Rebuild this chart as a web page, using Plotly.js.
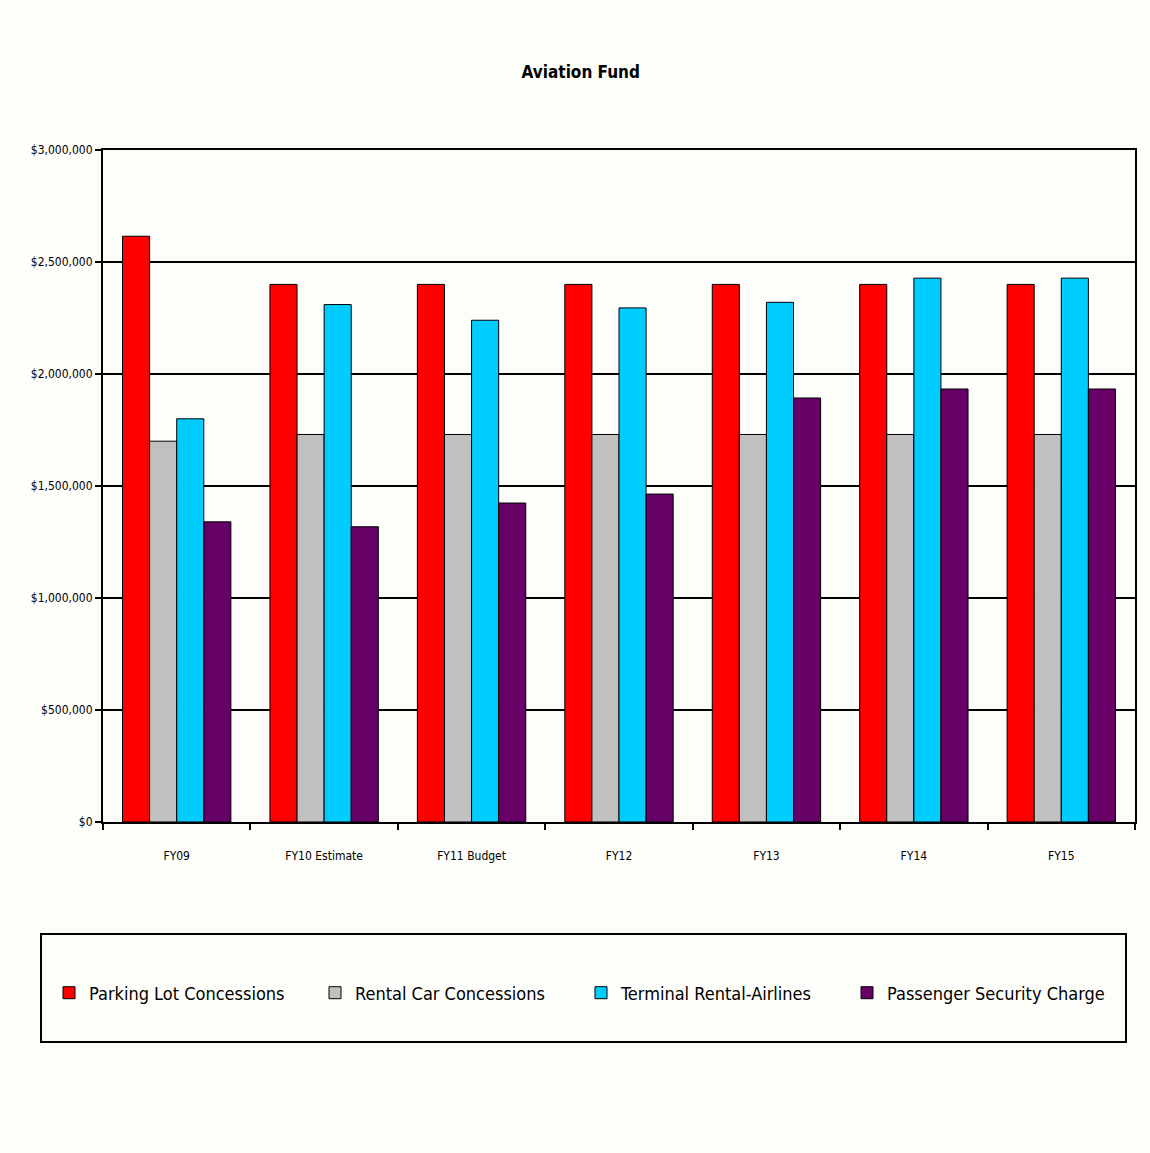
<!DOCTYPE html>
<html>
<head>
<meta charset="utf-8">
<script src="https://cdn.plot.ly/plotly-3.0.1.min.js"></script>
<style>
  html, body { margin: 0; padding: 0; background: #fdfdfa; }
  #chart { width: 1150px; height: 1153px; }
</style>
</head>
<body>
<div id="chart"></div>
<script>
// Aviation Fund revenue sources by fiscal year
const years = ["FY09", "FY10 Estimate", "FY11 Budget", "FY12", "FY13", "FY14", "FY15"];
const parkingLot = [2615000, 2400000, 2400000, 2400000, 2400000, 2400000, 2400000];
const rentalCar = [1700000, 1730000, 1730000, 1730000, 1730000, 1730000, 1730000];
const terminalRental = [1800000, 2310000, 2240000, 2295000, 2320000, 2428000, 2428000];
const securityCharge = [1340000, 1318000, 1424000, 1464000, 1893000, 1933000, 1933000];
const seriesNames = ["Parking Lot Concessions", "Rental Car Concessions", "Terminal Rental-Airlines", "Passenger Security Charge"];
const yTicks = [0, 500000, 1000000, 1500000, 2000000, 2500000, 3000000];

const FONT = "'Liberation Sans Narrow', 'Arial Narrow', 'DejaVu Sans Condensed', 'Liberation Sans', Arial, sans-serif";
const colors = ["#ff0000", "#c0c0c0", "#00ccff", "#660066"];
const series = [parkingLot, rentalCar, terminalRental, securityCharge];

const traces = series.map((vals, i) => ({
  type: "bar",
  name: seriesNames[i],
  x: years,
  y: vals,
  marker: { color: colors[i], line: { color: "#000000", width: 1 } },
  hoverinfo: "x+y+name"
}));

const layout = {
  width: 1150,
  height: 1153,
  paper_bgcolor: "#fdfdfa",
  plot_bgcolor: "#fdfdfa",
  margin: { l: 103, r: 15, t: 150, b: 331 },
  font: { family: FONT, color: "#000000", size: 13 },
  title: {
    text: "<b>Aviation Fund</b>",
    font: { family: FONT, size: 17, color: "#000000" },
    x: 0.505, xref: "container", xanchor: "center",
    y: 1 - 72 / 1153, yref: "container", yanchor: "middle"
  },
  barmode: "group",
  bargap: 0.265,
  bargroupgap: 0,
  xaxis: {
    type: "category",
    tickson: "boundaries",
    ticks: "outside",
    ticklen: 6,
    tickcolor: "#000000",
    tickwidth: 1.5,
    ticklabelstandoff: 22,
    showline: true,
    linecolor: "#000000",
    linewidth: 2,
    mirror: true,
    showgrid: false,
    tickfont: { family: FONT, size: 12, color: "#000000" },
    fixedrange: true
  },
  yaxis: {
    range: [0, 3000000],
    tickvals: yTicks,
    tickformat: "$,.0f",
    ticks: "outside",
    ticklen: 6,
    tickcolor: "#000000",
    tickwidth: 1.5,
    showline: true,
    linecolor: "#000000",
    linewidth: 2,
    mirror: true,
    showgrid: true,
    gridcolor: "#000000",
    gridwidth: 2,
    zeroline: false,
    tickfont: { family: FONT, size: 12, color: "#000000" },
    fixedrange: true
  },
  showlegend: true,
  legend: {
    orientation: "h",
    x: (49 - 103) / 1032,
    xanchor: "left",
    y: (822 - 993) / 672,
    yanchor: "middle",
    bgcolor: "rgba(0,0,0,0)",
    borderwidth: 0,
    font: { family: FONT, size: 18, color: "#000000" },
    entrywidth: 221,
    entrywidthmode: "pixels",
    itemclick: false,
    itemdoubleclick: false
  },
  shapes: [{
    type: "rect",
    xref: "paper", yref: "paper",
    x0: (41 - 103) / 1032, x1: (1126 - 103) / 1032,
    y0: (822 - 934) / 672, y1: (822 - 1042) / 672,
    line: { color: "#000000", width: 2 },
    fillcolor: "rgba(0,0,0,0)",
    layer: "below"
  }]
};

Plotly.newPlot("chart", traces, layout, { displayModeBar: false });
</script>
</body>
</html>
